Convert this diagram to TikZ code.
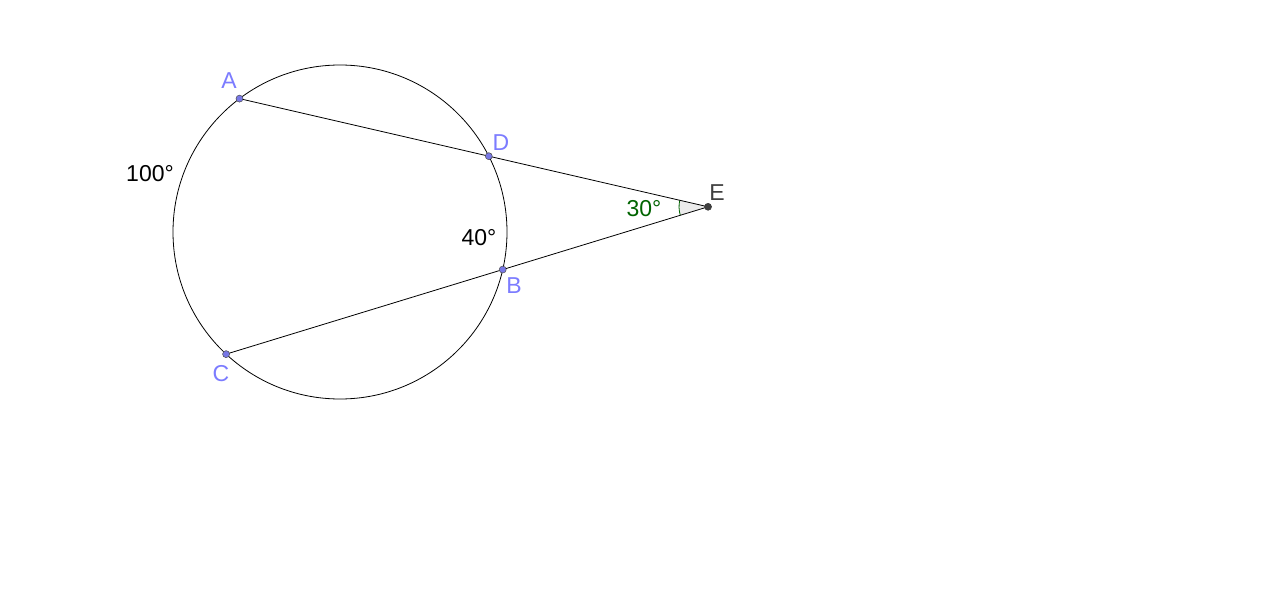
\documentclass[tikz,border=0pt]{standalone}
\usepackage{fontspec}
\setmainfont{Liberation Sans}
\usetikzlibrary{intersections,calc}
\definecolor{ptblue}{RGB}{124,124,255}
\definecolor{ptfill}{RGB}{120,120,230}
\definecolor{anggreen}{RGB}{0,100,0}
\definecolor{edark}{RGB}{64,64,64}
\tikzset{
  geo/.style={draw=black, line width=0.8pt},
  ptdot/.style={circle, fill=ptfill, draw=black!70, line width=0.5pt, inner sep=0pt, minimum size=7pt},
  edot/.style={circle, fill=edark, draw=black!80, line width=0.5pt, inner sep=0pt, minimum size=7pt},
  ptlabel/.style={text=ptblue, font=\fontsize{23}{23}\selectfont, inner sep=0pt},
  measlabel/.style={text=black, font=\fontsize{23}{23}\selectfont, inner sep=0pt},
}
\begin{document}
\begin{tikzpicture}
\useasboundingbox[fill=white] (0pt,0pt) rectangle (1280pt,590pt);
\coordinate (O) at (340pt,358pt);
\coordinate (A) at ($(O)+(127:167pt)$);
\coordinate (C) at ($(O)+(227:167pt)$);
\coordinate (D) at ($(O)+(27:167pt)$);
\coordinate (B) at ($(O)+(-13:167pt)$);
\path[name path=lAD] (A) -- ($(A)!3!(D)$);
\path[name path=lCB] (C) -- ($(C)!3!(B)$);
\path[name intersections={of=lAD and lCB, by=E}];
% angle at E
\fill[black, opacity=0.08] let \p1=($(D)-(E)$), \p2=($(B)-(E)$), \n1={atan2(\y1,\x1)}, \n2={atan2(\y2,\x2)} in
  (E) -- ($(E)+(\n1:29pt)$) arc[start angle=\n1, end angle=\n2+360, radius=29pt] -- cycle;
\draw[anggreen, line width=0.8pt] let \p1=($(D)-(E)$), \p2=($(B)-(E)$), \n1={atan2(\y1,\x1)}, \n2={atan2(\y2,\x2)} in
  ($(E)+(\n1:29pt)$) arc[start angle=\n1, end angle=\n2+360, radius=29pt];
\draw[geo] (O) circle[radius=167pt];
\draw[geo] (A) -- (E);
\draw[geo] (C) -- (E);
\node[ptdot] (nA) at (A) {};
\node[ptdot] (nB) at (B) {};
\node[ptdot] (nC) at (C) {};
\node[ptdot] (nD) at (D) {};
\node[edot] (nE) at (E) {};
\node[ptlabel] (lA) at (229pt,509pt) {A};
\node[ptlabel] (lD) at (501pt,447pt) {D};
\node[ptlabel] (lB) at (514pt,304pt) {B};
\node[ptlabel] (lC) at (221pt,216pt) {C};
\node[measlabel, text=edark] (lE) at (717pt,397pt) {E};
\node[measlabel] (l100) at (150pt,416pt) {100°};
\node[measlabel] (l40) at (479pt,352pt) {40°};
\node[measlabel, text=anggreen] (l30) at (644pt,381pt) {30°};
\end{tikzpicture}
\end{document}
